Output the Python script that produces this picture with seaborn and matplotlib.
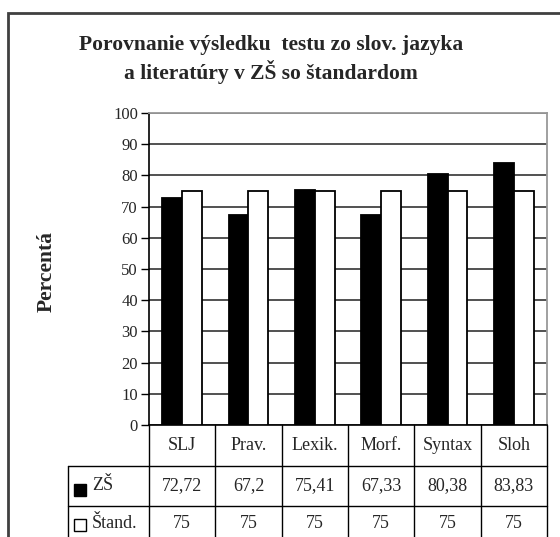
import numpy as np
import pandas as pd
import matplotlib
matplotlib.use("Agg")
import matplotlib.pyplot as plt
import seaborn as sns
from matplotlib.lines import Line2D
from matplotlib.patches import Rectangle
from matplotlib.transforms import blended_transform_factory

# ===========================
# Data
# ===========================
categories = ["SLJ", "Prav.", "Lexik.", "Morf.", "Syntax", "Sloh"]
zs_values = [72.72, 67.2, 75.41, 67.33, 80.38, 83.83]
stand_values = [75, 75, 75, 75, 75, 75]
zs_labels = ["72,72", "67,2", "75,41", "67,33", "80,38", "83,83"]
stand_labels = ["75", "75", "75", "75", "75", "75"]
series = ["ZŠ", "Štand."]
y_ticks = list(range(0, 101, 10))

df = pd.DataFrame({
    "kategoria": categories * 2,
    "seria": [series[0]] * len(categories) + [series[1]] * len(categories),
    "hodnota": zs_values + stand_values,
})

# ===========================
# Figure setup
# ===========================
sns.set_style("white")
plt.rcParams["font.family"] = ["Liberation Serif", "DejaVu Serif"]

W, H = 560, 537
fig = plt.figure(figsize=(W / 100, H / 100), dpi=100)


def px(x, y):
    # pixel coords (from top-left) -> figure fraction
    return x / W, 1 - y / H


left, right, top, bottom = 149, 547, 113, 425
ax = fig.add_axes([left / W, 1 - bottom / H, (right - left) / W, (bottom - top) / H])

sns.barplot(data=df, x="kategoria", y="hodnota", hue="seria", order=categories,
            hue_order=series, palette={"ZŠ": "black", "Štand.": "white"},
            edgecolor="black", linewidth=1.3, width=0.6, ax=ax, zorder=3)
ax.get_legend().remove()

ax.set_ylim(0, 100)
ax.set_xlim(-0.5, len(categories) - 0.5)
ax.set_yticks(y_ticks)
ax.set_yticklabels([str(t) for t in y_ticks], fontsize=12)
ax.set_xticks([])
ax.set_xlabel("")
ax.set_ylabel("")
ax.yaxis.grid(True, color="#222222", linewidth=1.1, zorder=0)
ax.set_axisbelow(True)
ax.tick_params(axis="y", direction="out", length=6, width=1, color="black", pad=2, left=True)

for s in ["top", "right"]:
    ax.spines[s].set_color("#999999")
    ax.spines[s].set_linewidth(1.3)
for s in ["left", "bottom"]:
    ax.spines[s].set_color("black")
    ax.spines[s].set_linewidth(1.2)
    ax.spines[s].set_visible(True)

# ===========================
# Titles
# ===========================
fig.text(*px(271, 45), "Porovnanie výsledku  testu zo slov. jazyka",
         ha="center", va="center", fontsize=15.5, fontweight="bold")
fig.text(*px(271, 72), "a literatúry v ZŠ so štandardom",
         ha="center", va="center", fontsize=15.5, fontweight="bold")
fig.text(*px(47, 272), "Percentá", rotation=90, ha="center", va="center",
         fontsize=15.5, fontweight="bold")

# outer frame (runs off right and bottom edges)
fig.add_artist(Rectangle(px(8, 560), 1, (560 - 13) / H, transform=fig.transFigure,
                         fill=False, edgecolor="#404040", linewidth=2, clip_on=False))

# ===========================
# Data table under the chart
# ===========================
col_w = (right - left) / len(categories)
row1, row2, row3 = 466, 506, 537
line_kw = dict(color="black", linewidth=1, transform=fig.transFigure)

for k in range(len(categories) + 1):
    x = left + k * col_w
    fig.add_artist(Line2D([x / W, x / W], [1 - bottom / H, 0], **line_kw))
fig.add_artist(Line2D([68 / W, 68 / W], [1 - row1 / H, 0], **line_kw))
for yy in [row1, row2]:
    fig.add_artist(Line2D([68 / W, right / W], [1 - yy / H, 1 - yy / H], **line_kw))

trans = blended_transform_factory(ax.transData, fig.transFigure)
for i, cat in enumerate(categories):
    ax.text(i, 1 - 446 / H, cat, transform=trans, ha="center", va="center", fontsize=13)
    ax.text(i, 1 - 486 / H, zs_labels[i], transform=trans, ha="center", va="center", fontsize=13)
    ax.text(i, 1 - 524 / H, stand_labels[i], transform=trans, ha="center", va="center", fontsize=13)

# legend keys in row labels
fig.add_artist(Rectangle(px(74, 496), 12 / W, 12 / H, transform=fig.transFigure,
                         facecolor="black", edgecolor="black", linewidth=1))
fig.add_artist(Rectangle(px(74, 531), 12 / W, 12 / H, transform=fig.transFigure,
                         facecolor="white", edgecolor="black", linewidth=1))
fig.text(*px(92, 486), series[0], ha="left", va="center", fontsize=13)
fig.text(*px(92, 524), series[1], ha="left", va="center", fontsize=13)

plt.savefig("out.png", dpi=100)
plt.close()
